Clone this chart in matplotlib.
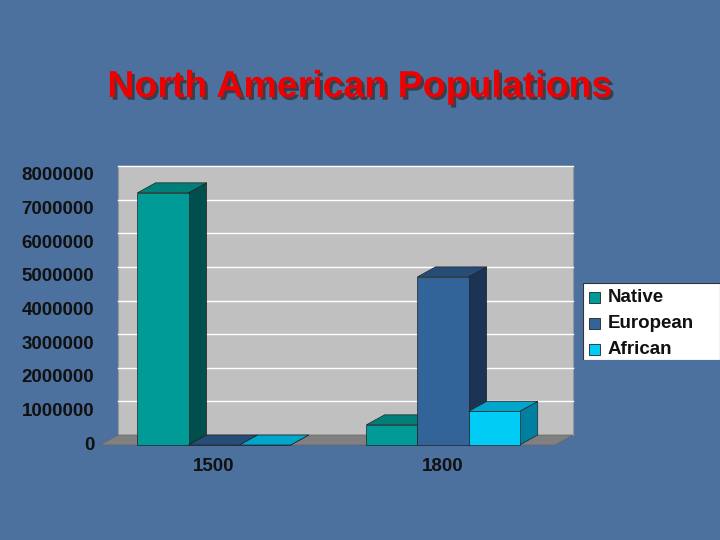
import matplotlib
matplotlib.use("Agg")
import matplotlib.pyplot as plt
from matplotlib.patches import Polygon, Rectangle
import matplotlib.patheffects as pe

years = ["1500", "1800"]
series = ["Native", "European", "African"]
native = [7500000, 600000]
european = [0, 5000000]
african = [0, 1000000]
yticks = [0, 1000000, 2000000, 3000000, 4000000, 5000000, 6000000, 7000000, 8000000]

front = {"Native": "#009b96", "European": "#32649a", "African": "#00ccf5"}
side = {"Native": "#004f4d", "European": "#1b3456", "African": "#007fa0"}
topc = {"Native": "#007f7a", "European": "#264d78", "African": "#00a6cc"}

fig = plt.figure(figsize=(7.2, 5.4), dpi=100)
fig.patch.set_facecolor("#4d719e")
ax = fig.add_axes([100/720, 1-445/540, 455/720, 269/540])
ax.set_axis_off()
xl, xr = -0.498, 1.489
ax.set_xlim(xl, xr)
ax.set_ylim(0, 8000000)
dx, dy = 0.079, 297000
w = 0.223

ax.add_patch(Rectangle((xl+dx, dy), xr-xl, 8000000, facecolor="#c0c0c0", edgecolor="#999999", lw=0.8, clip_on=False, zorder=0))
for t in yticks[1:]:
    ax.plot([xl+dx, xr+dx], [t+dy, t+dy], color="white", lw=1, clip_on=False, zorder=1)
ax.add_patch(Polygon([(xl, 0), (xl+dx, dy), (xr+dx, dy), (xr, 0)], closed=True, facecolor="#808080", edgecolor="#666666", lw=0.5, clip_on=False, zorder=1))

data = {"Native": native, "European": european, "African": african}
z = 2
for gi in range(len(years)):
    for si, s in enumerate(series):
        h = data[s][gi]
        x0 = gi + (si - 1.5) * w
        ax.add_patch(Polygon([(x0+w, 0), (x0+w+dx, dy), (x0+w+dx, h+dy), (x0+w, h)], closed=True, facecolor=side[s], edgecolor="#222222", lw=0.5, clip_on=False, zorder=z))
        ax.add_patch(Polygon([(x0, h), (x0+dx, h+dy), (x0+w+dx, h+dy), (x0+w, h)], closed=True, facecolor=topc[s], edgecolor="#222222", lw=0.5, clip_on=False, zorder=z))
        ax.bar(x0, h, width=w, align="edge", color=front[s], edgecolor="#222222", lw=0.5, zorder=z+0.5, clip_on=False)
        z += 1

for t in yticks:
    ax.text(xl-0.025, t, f"{t}", ha="right", va="center", fontsize=13.5, fontweight="bold", family="Liberation Sans", color="#111111")
for gi, y in enumerate(years):
    ax.text(gi, -650000, y, ha="center", va="center", fontsize=13.5, fontweight="bold", family="Liberation Sans", color="#111111")

fig.text(360/720, 1-87/540, "North American Populations", ha="center", va="center", fontsize=27, fontweight="bold", family="Liberation Sans", color="#ee0000",
         path_effects=[pe.withSimplePatchShadow(offset=(2, -2), shadow_rgbFace="#333333", alpha=0.8)])

lax = fig.add_axes([583/720, 1-360/540, 137/720, 77/540])
lax.set_xlim(0, 137); lax.set_ylim(77, 0); lax.set_axis_off()
lax.add_patch(Rectangle((0, 0), 137, 77, facecolor="white", edgecolor="#333333", lw=0.8))
for i, s in enumerate(series):
    yc = 14 + i * 26
    lax.add_patch(Rectangle((6, yc-5), 11, 11, facecolor=front[s], edgecolor="#222222", lw=0.6))
    lax.text(25, yc, s, va="center", fontsize=13.5, fontweight="bold", family="Liberation Sans", color="#111111")

fig.savefig("out.png", dpi=100, facecolor=fig.get_facecolor())
